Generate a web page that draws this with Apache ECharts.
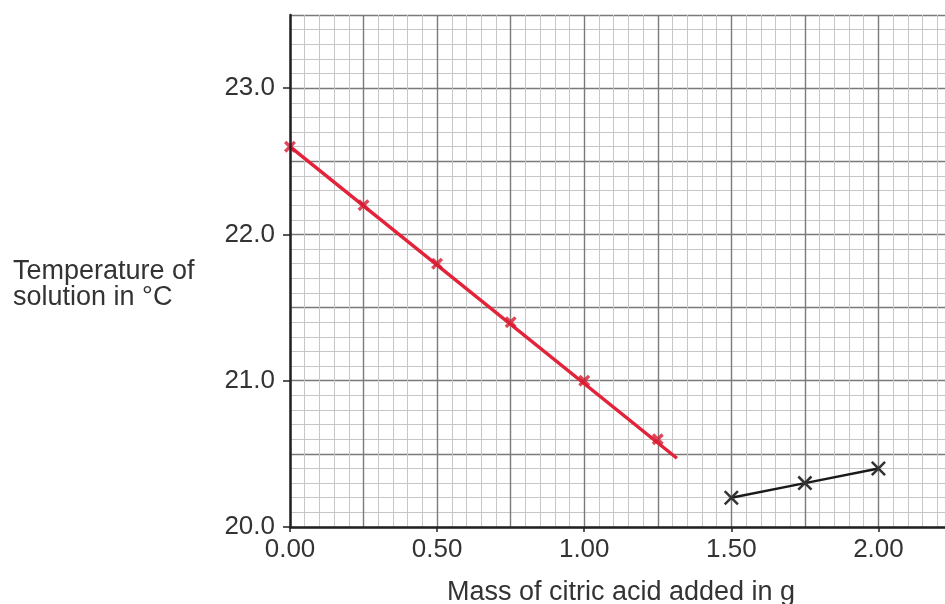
<!DOCTYPE html>
<html>
<head>
<meta charset="utf-8">
<script src="https://cdn.jsdelivr.net/npm/echarts@6/dist/echarts.min.js"></script>
<style>
html,body{margin:0;padding:0;background:#fff;}
#chart{width:945px;height:604px;}
</style>
</head>
<body>
<div id="chart"></div>
<script>
// Data
var redMass = [0.00, 0.25, 0.50, 0.75, 1.00, 1.25];
var redTemp = [22.6, 22.2, 21.8, 21.4, 21.0, 20.6];
var fitMass = [0.00, 1.315];
var fitTemp = [22.6, 20.47];
var blackMass = [1.50, 1.75, 2.00];
var blackTemp = [20.2, 20.3, 20.4];
var xTickValues = [0, 0.5, 1.0, 1.5, 2.0];
var yTickValues = [20, 21, 22, 23];
var xAxisName = 'Mass of citric acid added in g';
var yAxisName = 'Temperature of\nsolution in °C';

function zip(a, b) { return a.map(function (v, i) { return [v, b[i]]; }); }

var FONT = '"Liberation Sans", Arial, sans-serif';
var xShape = 'path://M0,1.2 L1.2,0 L10,8.8 L8.8,10 Z M8.8,0 L10,1.2 L1.2,10 L0,8.8 Z';
var redShape = 'path://M0,2 L2,0 L5,3 L8,0 L10,2 L7,5 L10,8 L8,10 L5,7 L2,10 L0,8 L3,5 Z';

var majorLine = {show: true, lineStyle: {color: '#7a7a7a', width: 1.4}};
var minorLine = {show: true, lineStyle: {color: '#c6c6c6', width: 1}};
var hidden = {
  axisLine: {show: false}, axisTick: {show: false}, axisLabel: {show: false}
};

var chart = echarts.init(document.getElementById('chart'), null, {renderer: 'canvas'});
chart.setOption({
  backgroundColor: '#ffffff',
  animation: false,
  grid: {left: 290, top: 15, width: 662, height: 512, containLabel: false, outerBoundsMode: 'none'},
  xAxis: [{
    type: 'value', min: 0, max: 2.25, interval: 0.25, z: 5,
    name: xAxisName, nameLocation: 'middle', nameGap: 52,
    nameTextStyle: {fontFamily: FONT, fontSize: 27, color: '#333', lineHeight: 27},
    axisLine: {show: true, onZero: false, lineStyle: {color: '#222', width: 2.5}},
    axisTick: {show: true, customValues: xTickValues, length: 5, lineStyle: {color: '#222', width: 1.5}},
    axisLabel: {customValues: xTickValues, margin: 10, fontFamily: FONT, fontSize: 26, color: '#333', lineHeight: 26,
      formatter: function (v) { return v.toFixed(2); }},
    splitLine: {show: false}
  }, Object.assign({
    type: 'value', min: 0, max: 2.25, interval: 0.25, position: 'top', z: 0,
    splitLine: majorLine,
    minorTick: {show: false, splitNumber: 5},
    minorSplitLine: minorLine
  }, hidden)],
  yAxis: [{
    type: 'value', min: 20, max: 23.5, interval: 0.5, z: 5,
    axisLine: {show: true, onZero: false, lineStyle: {color: '#222', width: 2.5}},
    axisTick: {show: true, customValues: yTickValues, length: 7, lineStyle: {color: '#222', width: 1.5}},
    axisLabel: {customValues: yTickValues, margin: 15, fontFamily: FONT, fontSize: 26, color: '#333',
      formatter: function (v) { return v.toFixed(1); }},
    splitLine: {show: false}
  }, Object.assign({
    type: 'value', min: 20, max: 23.5, interval: 0.5, position: 'right', z: 0,
    splitLine: majorLine,
    minorTick: {show: false, splitNumber: 5},
    minorSplitLine: minorLine
  }, hidden)],
  graphic: [{
    type: 'text', left: 13, top: 258,
    style: {text: yAxisName, font: '27px ' + FONT, fill: '#333', lineHeight: 26}
  }],
  series: [
    {
      type: 'line', data: zip(fitMass, fitTemp), showSymbol: false, symbol: 'none',
      lineStyle: {color: '#e2233a', width: 3.5}, z: 3
    },
    {
      type: 'scatter', data: zip(redMass, redTemp), symbol: redShape, symbolSize: 12,
      itemStyle: {color: '#d41c32'}, z: 4
    },
    {
      type: 'line', data: zip(blackMass, blackTemp), symbol: xShape, symbolSize: 15, showSymbol: true,
      lineStyle: {color: '#1a1a1a', width: 2.5}, itemStyle: {color: '#333'}, z: 4
    }
  ]
});
</script>
</body>
</html>
